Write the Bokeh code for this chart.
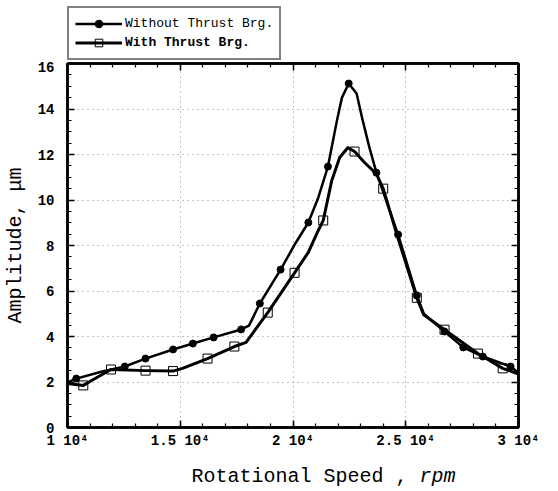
from bokeh.plotting import figure
from bokeh.layouts import column
from bokeh.models import (Range1d, LinearAxis, SingleIntervalTicker, CustomJSTickFormatter,
                          Legend, LegendItem, Label)
from bokeh.embed import file_html
from bokeh.resources import INLINE

# ---- data ----
# "Without Thrust Brg." curve and its markers
wo_line_rpm = [10000, 10390, 11500, 12540, 13460, 14680, 15560, 16480, 17700, 18050,
               18530, 19450, 20110, 20680, 21120, 21550, 21950, 22170, 22470, 22820, 23090,
               23390, 23700, 24660, 25490, 25800, 26090, 26720, 27550, 28420, 29650, 30000]
wo_line_amp = [1.98, 2.15, 2.45, 2.68, 3.03, 3.43, 3.69, 3.96, 4.31, 4.48,
               5.45, 6.94, 8.1, 9.01, 10.1, 11.47, 13.5, 14.5, 15.12, 14.68, 13.5,
               12.3, 11.2, 8.48, 5.8, 5.0, 4.75, 4.22, 3.52, 3.12, 2.68, 2.4]
wo_mark_rpm = [10390, 12540, 13460, 14680, 15560, 16480, 17700, 18530, 19450, 20680, 21550,
               22470, 23700, 24660, 25490, 26720, 27550, 28420, 29650]
wo_mark_amp = [2.15, 2.68, 3.03, 3.43, 3.69, 3.96, 4.31, 5.45, 6.94, 9.01, 11.47,
               15.12, 11.2, 8.48, 5.8, 4.22, 3.52, 3.12, 2.68]

# "With Thrust Brg." curve and its markers
w_line_rpm = [10000, 10700, 11300, 11930, 13460, 14680, 15100, 16210, 17400, 17920, 18360,
              18880, 20070, 20680, 21120, 21340, 21720, 22070, 22430, 22730, 23170, 23700,
              24000, 24620, 25490, 25800, 26720, 28200, 29300, 30000]
w_line_amp = [1.93, 1.85, 2.2, 2.55, 2.5, 2.48, 2.6, 3.03, 3.56, 3.74, 4.35,
              5.05, 6.8, 7.7, 8.66, 9.1, 10.86, 11.87, 12.3, 12.13, 11.65, 11.15,
              10.5, 8.44, 5.7, 4.95, 4.3, 3.25, 2.6, 2.35]
w_mark_rpm = [10700, 11930, 13460, 14680, 16210, 17400, 18880, 20070, 21340, 22730, 24000,
              25490, 26720, 28200, 29300]
w_mark_amp = [1.85, 2.55, 2.5, 2.48, 3.03, 3.56, 5.05, 6.8, 9.1, 12.13, 10.5,
              5.7, 4.3, 3.25, 2.6]

labels = ["Without Thrust Brg.", "With Thrust Brg."]
x_title = "Rotational Speed , "
x_title_unit = "rpm"
y_title = "Amplitude, \u03bcm"

FONT = "Liberation Mono"
W = 542

WO_LINE = dict(line_color="black", line_width=2.5, line_join="round")
WO_MARK = dict(marker="circle", size=7, fill_color="black", line_color="black")
W_LINE = dict(line_color="black", line_width=3, line_join="round")
W_MARK = dict(marker="square", size=9, fill_color=None, line_color="black", line_width=1)


def bare(height, xr, yr, **borders):
    f = figure(output_backend="svg", toolbar_location=None, width=W, height=height,
               min_border=0, x_range=xr, y_range=yr,
               x_axis_location=None, y_axis_location=None, **borders)
    f.outline_line_color = None
    f.xgrid.visible = False
    f.ygrid.visible = False
    f.background_fill_color = "white"
    f.border_fill_color = "white"
    return f


# ================= main plot =================
p = figure(output_backend="svg", toolbar_location=None, width=W, height=390,
           min_border_left=61, min_border_right=24, min_border_top=2, min_border_bottom=24,
           x_range=Range1d(10000, 30000), y_range=Range1d(0, 16),
           x_axis_location=None, y_axis_location=None)
p.background_fill_color = "white"
p.border_fill_color = "white"
p.outline_line_color = "black"
p.outline_line_width = 2.5

xt = SingleIntervalTicker(interval=5000, num_minor_ticks=5)
yt = SingleIntervalTicker(interval=2, num_minor_ticks=4)
fmt = CustomJSTickFormatter(code="return (tick/10000).toString() + ' 10\u2074';")


def style_axis(ax, show_labels):
    ax.axis_line_width = 2.5
    ax.axis_line_color = "black"
    ax.major_tick_in = 7
    ax.major_tick_out = 0
    ax.minor_tick_in = 4
    ax.minor_tick_out = 0
    ax.major_tick_line_width = 1.5
    ax.minor_tick_line_width = 1.2
    ax.major_tick_line_color = "black"
    ax.minor_tick_line_color = "black"
    ax.major_label_text_font = FONT
    ax.major_label_text_font_style = "bold"
    ax.axis_label_text_color = "black"
    if show_labels:
        ax.major_label_text_font_size = "14px"
        ax.major_label_text_color = "black"
    else:
        ax.major_label_text_font_size = "0px"
        ax.major_label_text_color = None
        ax.major_label_standoff = 0


xb = LinearAxis(ticker=xt, formatter=fmt)
style_axis(xb, True)
xb.major_label_standoff = 5
p.add_layout(xb, "below")

yl = LinearAxis(ticker=yt, axis_label=y_title)
style_axis(yl, True)
yl.major_label_standoff = 13
yl.axis_label_text_font = FONT
yl.axis_label_text_font_size = "20px"
yl.axis_label_text_font_style = "normal"
yl.axis_label_standoff = 8
p.add_layout(yl, "left")

xa = LinearAxis(ticker=xt)
style_axis(xa, False)
p.add_layout(xa, "above")

yr = LinearAxis(ticker=yt)
style_axis(yr, False)
p.add_layout(yr, "right")

p.xgrid.ticker = xt
p.ygrid.ticker = yt
for g in (p.xgrid, p.ygrid):
    g.grid_line_color = "#8a8a8a"
    g.grid_line_dash = "1 4"
    g.grid_line_width = 1

p.line(wo_line_rpm, wo_line_amp, **WO_LINE)
p.scatter(wo_mark_rpm, wo_mark_amp, **WO_MARK)
p.line(w_line_rpm, w_line_amp, **W_LINE)
p.scatter(w_mark_rpm, w_mark_amp, **W_MARK)

# ================= legend strip above the plot =================
# same series drawn again, outside this strip's visible range, only to feed the legend glyphs
top = bare(61, Range1d(0, 1), Range1d(0, 1), min_border_left=59, min_border_top=6)
k_wo_l = top.line(wo_line_rpm, wo_line_amp, **WO_LINE)
k_wo_s = top.scatter(wo_mark_rpm, wo_mark_amp, **WO_MARK)
k_w_l = top.line(w_line_rpm, w_line_amp, **W_LINE)
k_w_s = top.scatter(w_mark_rpm, w_mark_amp, **W_MARK)
k_blank = top.line(wo_line_rpm, wo_line_amp, line_alpha=0)

legA = Legend(items=[LegendItem(label=labels[0], renderers=[k_wo_l, k_wo_s]),
                     LegendItem(label=" ", renderers=[k_blank])],
              location="top_left")
legB = Legend(items=[LegendItem(label=" ", renderers=[k_blank]),
                     LegendItem(label=labels[1], renderers=[k_w_l, k_w_s])],
              location="top_left")
for lg, style in ((legA, "normal"), (legB, "bold")):
    lg.label_text_font = FONT
    lg.label_text_font_size = "13px"
    lg.label_text_font_style = style
    lg.label_text_color = "black"
    lg.glyph_width = 47
    lg.glyph_height = 19
    lg.label_height = 19
    lg.label_standoff = 3
    lg.padding = 6
    lg.spacing = 0
    lg.margin = 0
    lg.border_line_width = 2
legA.border_line_color = "black"
legA.background_fill_color = "white"
legA.background_fill_alpha = 1
# invisible border so that the same padding applies as in legA
legB.border_line_color = "white"
legB.border_line_alpha = 0.01
legB.background_fill_alpha = 0
top.add_layout(legA, "center")
top.add_layout(legB, "center")

# ================= x-axis title strip below the plot =================
bot = bare(38, Range1d(0, W), Range1d(0, 38))
bot.add_layout(Label(x=149, y=13, text=x_title, text_font=FONT, text_font_size="20px",
                     text_align="left", text_baseline="middle", text_color="black"))
bot.add_layout(Label(x=149, y=13, x_offset=228, text=x_title_unit, text_font=FONT,
                     text_font_size="20px", text_font_style="italic", text_align="left",
                     text_baseline="middle", text_color="black"))

layout = column(top, p, bot, spacing=0)
open("out.html", "w").write(file_html(layout, INLINE))
